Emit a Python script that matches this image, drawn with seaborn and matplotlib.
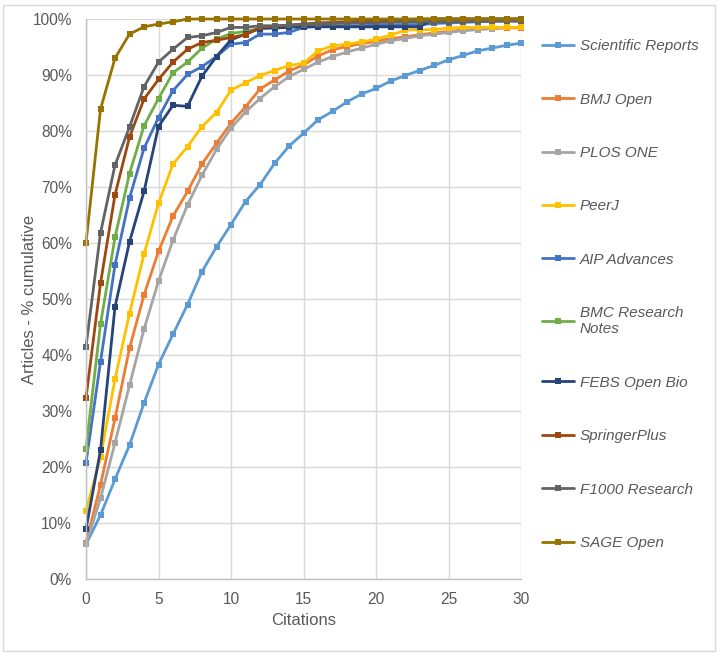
import matplotlib
matplotlib.use("Agg")
import matplotlib.pyplot as plt
from matplotlib.patches import Rectangle
from matplotlib.ticker import FuncFormatter, MultipleLocator
import seaborn as sns
import pandas as pd

citations = list(range(0, 31))

journals = ["Scientific Reports", "BMJ Open", "PLOS ONE", "PeerJ", "AIP Advances",
            "BMC Research Notes", "FEBS Open Bio", "SpringerPlus", "F1000 Research", "SAGE Open"]
legend_labels = ["Scientific Reports", "BMJ Open", "PLOS ONE", "PeerJ", "AIP Advances",
                 "BMC Research\nNotes", "FEBS Open Bio", "SpringerPlus", "F1000 Research", "SAGE Open"]

sci_reports = [6.2, 11.4, 17.8, 23.9, 31.4, 38.3, 43.7, 49.0, 54.9, 59.3, 63.3, 67.4, 70.4, 74.2, 77.3,
               79.6, 82.0, 83.5, 85.2, 86.6, 87.6, 88.9, 89.9, 90.8, 91.7, 92.7, 93.5, 94.3, 94.8, 95.3, 95.7]
bmj_open = [6.5, 16.8, 28.7, 41.2, 50.7, 58.5, 64.8, 69.2, 74.1, 77.8, 81.4, 84.3, 87.5, 89.1, 90.7,
            91.8, 93.4, 94.5, 95.1, 95.6, 96.0, 96.5, 96.8, 97.2, 97.5, 97.8, 98.0, 98.2, 98.3, 98.4, 98.4]
plos_one = [6.2, 14.4, 24.3, 34.6, 44.6, 53.2, 60.5, 66.8, 72.1, 76.7, 80.5, 83.4, 85.8, 87.9, 89.7,
            91.0, 92.3, 93.3, 94.1, 94.8, 95.5, 96.1, 96.5, 97.0, 97.3, 97.6, 97.9, 98.1, 98.3, 98.5, 98.5]
peerj = [12.2, 21.7, 35.7, 47.4, 58.0, 67.1, 74.1, 77.2, 80.8, 83.3, 87.3, 88.6, 89.9, 90.8, 91.7,
         92.1, 94.3, 95.2, 95.5, 95.9, 96.4, 97.1, 98.0, 98.1, 98.1, 98.4, 98.5, 98.5, 98.5, 98.5, 98.5]
aip_advances = [20.7, 38.8, 56.1, 68.0, 76.9, 82.4, 87.2, 90.1, 91.5, 93.3, 95.5, 95.8, 97.3, 97.3, 97.6,
                98.5, 98.7, 98.8, 98.8, 98.8, 98.9, 98.9, 99.0, 99.0, 99.2, 99.3, 99.4, 99.5, 99.6, 99.7, 99.8]
bmc_research_notes = [23.3, 45.5, 61.0, 72.4, 80.9, 85.8, 90.4, 92.3, 94.8, 96.4, 97.4, 97.8, 98.3, 98.6, 98.8,
                      99.0, 99.1, 99.2, 99.3, 99.4, 99.4, 99.5, 99.5, 99.6, 99.6, 99.7, 99.7, 99.8, 99.8, 99.9, 99.9]
febs_open_bio = [8.9, 23.0, 48.6, 60.2, 69.2, 80.8, 84.6, 84.4, 89.8, 93.3, 96.3, 97.3, 98.3, 98.4, 98.5,
                 98.6, 98.6, 98.6, 98.6, 98.6, 98.6, 98.6, 98.6, 98.6, 100, 100, 100, 100, 100, 100, 100]
springerplus = [32.3, 52.8, 68.6, 78.9, 85.7, 89.2, 92.3, 94.6, 95.8, 96.2, 96.7, 97.2, 98.5, 98.7, 98.9,
                99.1, 99.3, 99.4, 99.5, 99.6, 99.7, 99.8, 99.9, 100, 100, 100, 100, 100, 100, 100, 100]
f1000_research = [41.5, 61.8, 73.9, 80.7, 87.9, 92.3, 94.6, 96.7, 97.0, 97.6, 98.5, 98.5, 98.8, 98.8, 98.9,
                  99.0, 99.1, 99.2, 99.3, 99.3, 99.4, 99.4, 99.5, 99.5, 99.5, 99.5, 99.6, 99.6, 99.6, 99.6, 99.6]
sage_open = [60.0, 83.9, 93.0, 97.3, 98.6, 99.1, 99.5, 100, 100, 100, 100, 100, 100, 100, 100,
             100, 100, 100, 100, 100, 100, 100, 100, 100, 100, 100, 100, 100, 100, 100, 100]

series = [sci_reports, bmj_open, plos_one, peerj, aip_advances,
          bmc_research_notes, febs_open_bio, springerplus, f1000_research, sage_open]
colors = ["#5B9BD5", "#ED7D31", "#A5A5A5", "#FFC000", "#4472C4",
          "#70AD47", "#264478", "#9E480E", "#636363", "#997300"]

sns.set_theme(style="white")
plt.rcParams["font.family"] = ["Liberation Sans", "DejaVu Sans"]

fig = plt.figure(figsize=(7.2, 6.58), dpi=100)
ax = fig.add_axes([86 / 720, 1 - 579 / 658, 435 / 720, 560 / 658])

for name, lab, vals, col in zip(journals, legend_labels, series, colors):
    df = pd.DataFrame({"Citations": citations, "Pct": vals})
    sns.lineplot(data=df, x="Citations", y="Pct", ax=ax, color=col, label=lab,
                 marker="s", markersize=4.8, markeredgewidth=0, linewidth=2.0, clip_on=False)

ax.set_xlim(0, 30)
ax.set_ylim(0, 100)
ax.xaxis.set_major_locator(MultipleLocator(5))
ax.yaxis.set_major_locator(MultipleLocator(10))
ax.yaxis.set_major_formatter(FuncFormatter(lambda v, p: f"{int(round(v))}%"))
ax.grid(True, color="#D9D9D9", linewidth=1.0)
ax.set_axisbelow(True)
for s in ["top", "right"]:
    ax.spines[s].set_visible(False)
for s in ["left", "bottom"]:
    ax.spines[s].set_color("#BFBFBF")
    ax.spines[s].set_linewidth(1.0)
ax.tick_params(axis="both", length=0, labelsize=11.2, colors="#595959")
ax.tick_params(axis="y", pad=10)
ax.tick_params(axis="x", pad=9)
ax.set_xlabel("Citations", fontsize=12, color="#595959", labelpad=5)
ax.set_ylabel("Articles - % cumulative", fontsize=12, color="#595959", labelpad=-3)

leg = ax.legend(loc="upper left", bbox_to_anchor=(536 / 720, 1 - 33 / 658),
                bbox_transform=fig.transFigure, frameon=False,
                prop={"size": 11, "style": "italic"}, labelcolor="#595959",
                handlelength=2.1, handletextpad=0.35, labelspacing=2.58, borderaxespad=0)

fig.patches.append(Rectangle((3 / 720, 7 / 658), 712 / 720, 646 / 658, transform=fig.transFigure,
                             fill=False, edgecolor="#D9D9D9", linewidth=1.0))

fig.savefig("out.png", dpi=100)
